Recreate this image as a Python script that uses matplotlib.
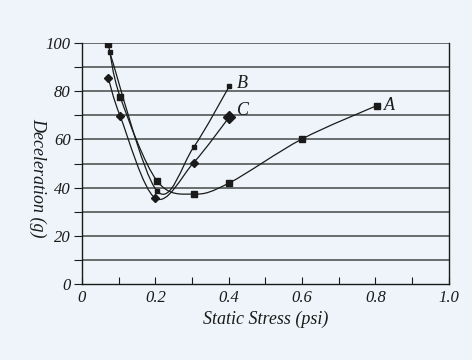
import numpy as np
import matplotlib
matplotlib.use("Agg")
import matplotlib.pyplot as plt
from matplotlib.path import Path
from matplotlib.patches import PathPatch

# Data
a_x = [0.072, 0.104, 0.204, 0.304, 0.402, 0.600, 0.803]
a_y = [99.6, 77.7, 42.9, 37.3, 42.0, 60.2, 74.0]
b_x = [0.075, 0.204, 0.304, 0.402]
b_y = [96.4, 38.7, 56.7, 82.2]
c_x = [0.072, 0.104, 0.200, 0.304, 0.402]
c_y = [85.3, 69.7, 35.6, 50.3, 69.4]
labels = ["A", "B", "C"]
x_ticks = [0, 0.2, 0.4, 0.6, 0.8, 1.0]
x_tick_labels = ["0", "0.2", "0.4", "0.6", "0.8", "1.0"]
y_ticks = [0, 20, 40, 60, 80, 100]

BG = "#eef4f9"
INK = "#1a1a1a"
font = ["Liberation Serif", "DejaVu Serif"]


def smooth_path(xs, ys, tension=0.5):
    """Catmull-Rom spline converted into cubic Bezier path segments."""
    pts = np.column_stack([xs, ys]).astype(float)
    n = len(pts)
    verts = [tuple(pts[0])]
    codes = [Path.MOVETO]
    for i in range(n - 1):
        p0 = pts[i - 1] if i > 0 else pts[i]
        p1 = pts[i]
        p2 = pts[i + 1]
        p3 = pts[i + 2] if i + 2 < n else pts[i + 1]
        c1 = p1 + (p2 - p0) * tension / 3.0
        c2 = p2 - (p3 - p1) * tension / 3.0
        verts += [tuple(c1), tuple(c2), tuple(p2)]
        codes += [Path.CURVE4] * 3
    return Path(verts, codes)


fig = plt.figure(figsize=(4.72, 3.6), dpi=100, facecolor=BG)
ax = fig.add_axes([0.1737, 0.211, 0.7773, 0.6695], facecolor=BG)
ax.set_xlim(0, 1.0)
ax.set_ylim(0, 100)

# horizontal grid
for yv in range(10, 101, 10):
    ax.axhline(yv, color="#2a2a2a", lw=1.1, alpha=0.85, zorder=1)

for xs, ys in [(a_x, a_y), (b_x, b_y), (c_x, c_y)]:
    ax.add_patch(PathPatch(smooth_path(xs, ys), fill=False, ec=INK, lw=0.9, zorder=2))

ax.plot(a_x, a_y, ls="none", marker="s", ms=4.5, color=INK, zorder=3)
ax.plot(b_x, b_y, ls="none", marker="s", ms=3.5, color=INK, zorder=3)
ax.plot(c_x, c_y, ls="none", marker="D", ms=4, color=INK, zorder=3)
ax.plot([c_x[-1]], [c_y[-1]], ls="none", marker="D", ms=6, color=INK, zorder=3)

ax.text(a_x[-1] + 0.02, a_y[-1], labels[0], fontsize=13, style="italic", family=font,
        va="center", ha="left", color=INK)
ax.text(b_x[-1] + 0.02, b_y[-1] + 1, labels[1], fontsize=13, style="italic", family=font,
        va="center", ha="left", color=INK)
ax.text(c_x[-1] + 0.02, c_y[-1] + 2.5, labels[2], fontsize=13, style="italic", family=font,
        va="center", ha="left", color=INK)

ax.spines["top"].set_visible(False)
for s in ["left", "right", "bottom"]:
    ax.spines[s].set_color(INK)
    ax.spines[s].set_linewidth(1.0)

ax.set_xticks(x_ticks)
ax.set_xticklabels(x_tick_labels)
ax.set_xticks(np.arange(0.1, 1.0, 0.2), minor=True)
ax.set_yticks(y_ticks)
ax.set_yticks(range(10, 100, 20), minor=True)
ax.tick_params(axis="x", which="both", direction="in", length=5, width=0.8, colors=INK,
               labelsize=12, pad=4)
ax.tick_params(axis="y", which="both", direction="out", length=6, width=0.8, colors=INK,
               labelsize=12, pad=2)
for lab in ax.get_xticklabels() + ax.get_yticklabels():
    lab.set_fontstyle("italic")
    lab.set_family(font)

ax.set_xlabel("Static Stress (psi)", fontsize=13, style="italic", family=font, labelpad=4,
              color=INK)
fig.text(38 / 472, 0.505, "Deceleration (g)", fontsize=13, style="italic", family=font,
         rotation=270, ha="center", va="center", color=INK)

fig.savefig("out.png", dpi=100, facecolor=BG)
